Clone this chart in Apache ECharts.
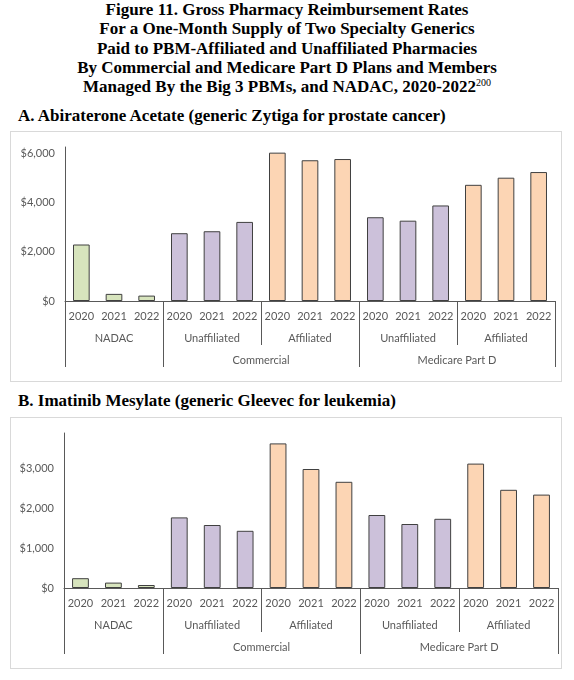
<!DOCTYPE html>
<html lang="en">
<head>
<meta charset="UTF-8">
<title>Figure 11. Gross Pharmacy Reimbursement Rates</title>
<script src="https://cdn.jsdelivr.net/npm/echarts@6.0.0/dist/echarts.min.js"></script>
<style>
  body { margin: 0; background: #fff; width: 574px; height: 680px; position: relative; overflow: hidden; }
  .fig-title { position: absolute; left: 0; top: 0; width: 574px; text-align: center;
    font-family: "Liberation Serif", "Times New Roman", serif; font-weight: bold; font-size: 17px; line-height: 19.3px; color: #000; }
  .fig-title sup { font-size: 10px; font-weight: normal; line-height: 0; vertical-align: 6px; }
  .panel-title { position: absolute; left: 18px; font-family: "Liberation Serif", "Times New Roman", serif;
    font-weight: bold; font-size: 17px; line-height: 20px; color: #000; }
  .chart { position: absolute; left: 10px; width: 552px; border: 1px solid #d9d9d9; box-sizing: border-box; }
</style>
</head>
<body>
  <div class="fig-title">
    Figure 11. Gross Pharmacy Reimbursement Rates<br>
    For a One-Month Supply of Two Specialty Generics<br>
    Paid to PBM-Affiliated and Unaffiliated Pharmacies<br>
    By Commercial and Medicare Part D Plans and Members<br>
    Managed By the Big 3 PBMs, and NADAC, 2020-2022<sup>200</sup>
  </div>

  <div class="panel-title" style="top:106px">A. Abiraterone Acetate (generic Zytiga for prostate cancer)</div>
  <div class="chart" id="chart_a" style="top:131px;height:251px"></div>

  <div class="panel-title" style="top:391px">B. Imatinib Mesylate (generic Gleevec for leukemia)</div>
  <div class="chart" id="chart_b" style="top:417px;height:252px"></div>

  <script>
    // 分类
    var years = ['2020', '2021', '2022'];
    var groupNames = ['NADAC', 'Unaffiliated', 'Affiliated', 'Unaffiliated', 'Affiliated'];
    var groupKinds = ['nadac', 'unaff', 'aff', 'unaff', 'aff'];
    var payerNames = ['', 'Commercial', 'Medicare Part D'];
    var payerGroupCounts = [1, 2, 2];

    // A. Abiraterone Acetate
    var abirNadac = [2300, 290, 220];
    var abirCommUnaff = [2760, 2840, 3220];
    var abirCommAff = [6040, 5730, 5780];
    var abirMedUnaff = [3410, 3270, 3890];
    var abirMedAff = [4730, 5020, 5250];

    // B. Imatinib Mesylate
    var imatNadac = [245, 135, 75];
    var imatCommUnaff = [1765, 1575, 1430];
    var imatCommAff = [3615, 2975, 2655];
    var imatMedUnaff = [1825, 1600, 1730];
    var imatMedAff = [3110, 2455, 2335];

    var kindColors = { nadac: '#d7e4bd', unaff: '#ccc1da', aff: '#fcd5b4' };
    var labelFont = { fontFamily: 'Lato', fontSize: 11, color: '#595959' };

    // 年份轴下面的两层分组轴，用半格的点位来放标签和分隔线
    var n = years.length;
    var points = groupNames.length * n * 2 + 1;
    var groupAxisData = [];
    var payerAxisData = [];
    for (var i = 0; i < points; i++) {
      groupAxisData.push('');
      payerAxisData.push('');
    }
    for (var g = 0; g < groupNames.length; g++) {
      groupAxisData[g * n * 2 + n] = groupNames[g];
    }
    var payerBounds = [0];
    var start = 0;
    for (var p = 0; p < payerNames.length; p++) {
      var span = payerGroupCounts[p] * n * 2;
      payerAxisData[start + span / 2] = payerNames[p];
      start += span;
      payerBounds.push(start);
    }

    function buildOption(groups, yMax, grid) {
      var yearAxisData = [];
      var barData = [];
      groups.forEach(function (vals, gi) {
        vals.forEach(function (v, yi) {
          yearAxisData.push(years[yi]);
          barData.push({ value: v, itemStyle: { color: kindColors[groupKinds[gi]] } });
        });
      });
      var hiddenLine = { show: false };
      return {
        animation: false,
        grid: Object.assign({ outerBoundsMode: 'none', containLabel: false }, grid),
        xAxis: [
          {
            type: 'category', position: 'bottom', data: yearAxisData,
            axisLine: { lineStyle: { color: '#595959', width: 1 } },
            axisTick: { show: false },
            axisLabel: Object.assign({ interval: 0, margin: 10 }, labelFont)
          },
          {
            type: 'category', position: 'bottom', boundaryGap: false, data: groupAxisData,
            axisLine: hiddenLine,
            axisTick: {
              length: 44, lineStyle: { color: '#595959' },
              interval: function (idx) { return idx % (n * 2) === 0; }
            },
            axisLabel: Object.assign({ interval: 0, margin: 32 }, labelFont)
          },
          {
            type: 'category', position: 'bottom', boundaryGap: false, data: payerAxisData,
            axisLine: hiddenLine,
            axisTick: {
              length: 66, lineStyle: { color: '#595959' },
              interval: function (idx) { return payerBounds.indexOf(idx) >= 0; }
            },
            axisLabel: Object.assign({ interval: 0, margin: 54 }, labelFont)
          }
        ],
        yAxis: {
          type: 'value', min: 0, max: yMax, interval: yMax > 5000 ? 2000 : 1000,
          axisLine: { show: true, lineStyle: { color: '#595959', width: 1 } },
          axisTick: { show: false },
          splitLine: { show: false },
          axisLabel: Object.assign({
            margin: 10, showMaxLabel: false,
            formatter: function (v) { return '$' + v.toLocaleString('en-US'); }
          }, labelFont)
        },
        series: [{
          type: 'bar', xAxisIndex: 0, barWidth: '51%',
          itemStyle: { borderColor: '#404040', borderWidth: 1 },
          data: barData
        }]
      };
    }

    var chartA = echarts.init(document.getElementById('chart_a'));
    chartA.setOption(buildOption(
      [abirNadac, abirCommUnaff, abirCommAff, abirMedUnaff, abirMedAff],
      6270,
      { left: 54, right: 6, top: 15, bottom: 80 }
    ));

    var chartB = echarts.init(document.getElementById('chart_b'));
    chartB.setOption(buildOption(
      [imatNadac, imatCommUnaff, imatCommAff, imatMedUnaff, imatMedAff],
      3875,
      { left: 53, right: 3, top: 15, bottom: 80 }
    ));
  </script>
</body>
</html>
